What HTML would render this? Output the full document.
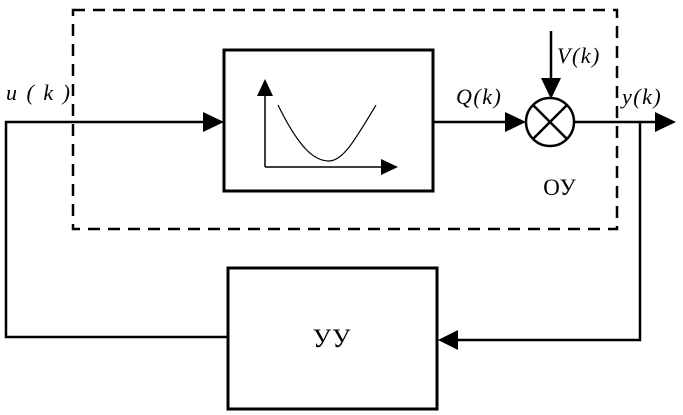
<!DOCTYPE html>
<html><head><meta charset="utf-8"><style>
html,body{margin:0;padding:0;background:#fff;}
svg{display:block;}
text{font-family:"Liberation Serif",serif;fill:#000;}
</style></head><body>
<svg width="683" height="415" viewBox="0 0 683 415" xmlns="http://www.w3.org/2000/svg">
<rect x="73" y="10" width="544" height="219" fill="none" stroke="#000" stroke-width="2.5" stroke-dasharray="12,8"/>
<rect x="224" y="50" width="209" height="141" fill="none" stroke="#000" stroke-width="3"/>
<line x1="265" y1="92" x2="265" y2="167" stroke="#000" stroke-width="1.5"/>
<polygon points="265,79 257,96 273,96" fill="#000"/>
<line x1="265" y1="167" x2="382" y2="167" stroke="#000" stroke-width="1.5"/>
<polygon points="398,167 381,159 381,175" fill="#000"/>
<path d="M278,105 C300,150 315,161 329,161 C343,161 355,140 376,105" fill="none" stroke="#000" stroke-width="1.2"/>
<polyline points="228,337 6,337 6,122 205,122" fill="none" stroke="#000" stroke-width="2.5"/>
<polygon points="224,122 203,112 203,132" fill="#000"/>
<text x="6" y="100" font-size="22" font-style="italic" letter-spacing="2">u ( k )</text>
<line x1="433" y1="122" x2="508" y2="122" stroke="#000" stroke-width="2.5"/>
<polygon points="526,122 505,112 505,132" fill="#000"/>
<text x="456" y="104" font-size="22" font-style="italic" letter-spacing="1.5">Q(k)</text>
<circle cx="550" cy="122" r="24" fill="none" stroke="#000" stroke-width="2.5"/>
<line x1="533" y1="105" x2="567" y2="139" stroke="#000" stroke-width="2.5"/>
<line x1="567" y1="105" x2="533" y2="139" stroke="#000" stroke-width="2.5"/>
<line x1="551" y1="31" x2="551" y2="82" stroke="#000" stroke-width="2.5"/>
<polygon points="551,99 541,78 561,78" fill="#000"/>
<text x="557" y="63" font-size="22" font-style="italic" letter-spacing="1.5">V(k)</text>
<line x1="574" y1="122" x2="658" y2="122" stroke="#000" stroke-width="2.5"/>
<polygon points="676,122 655,112 655,132" fill="#000"/>
<text x="622" y="104" font-size="22" font-style="italic" letter-spacing="1.5">y(k)</text>
<text x="560" y="195" font-size="23" text-anchor="middle" letter-spacing="1">ОУ</text>
<polyline points="640,122 640,340 456,340" fill="none" stroke="#000" stroke-width="2.5"/>
<polygon points="438,340 458,330 458,350" fill="#000"/>
<rect x="228" y="268" width="209" height="141" fill="none" stroke="#000" stroke-width="3"/>
<text x="332" y="347" font-size="26" text-anchor="middle" letter-spacing="1">УУ</text>
</svg>
</body></html>
